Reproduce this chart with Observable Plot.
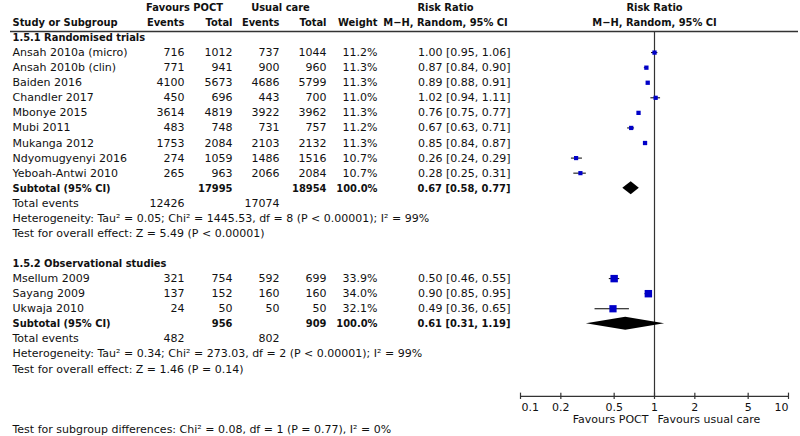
<!DOCTYPE html>
<html><head><meta charset="utf-8">
<script src="https://cdn.jsdelivr.net/npm/d3@7"></script>
<script src="https://cdn.jsdelivr.net/npm/@observablehq/plot@0.6"></script>
<style>body{margin:0;background:#fff}</style>
</head><body><div id="chart"></div>
<script>
// ---------- data ----------
const subgroupTitles = ["1.5.1 Randomised trials", "1.5.2 Observational studies"];
const studyNames = ["Ansah 2010a (micro)", "Ansah 2010b (clin)", "Baiden 2016", "Chandler 2017", "Mbonye 2015", "Mubi 2011", "Mukanga 2012", "Ndyomugyenyi 2016", "Yeboah-Antwi 2010", "Msellum 2009", "Sayang 2009", "Ukwaja 2010"];
const studyGroup = [0,0,0,0,0,0,0,0,0,1,1,1];
const pocEvents = [716, 771, 4100, 450, 3614, 483, 1753, 274, 265, 321, 137, 24];
const pocTotals = [1012, 941, 5673, 696, 4819, 748, 2084, 1059, 963, 754, 152, 50];
const ucEvents = [737, 900, 4686, 443, 3922, 731, 2103, 1486, 2066, 592, 160, 50];
const ucTotals = [1044, 960, 5799, 700, 3962, 757, 2132, 1516, 2084, 699, 160, 50];
const weights = [11.2, 11.3, 11.3, 11.0, 11.3, 11.2, 11.3, 10.7, 10.7, 33.9, 34.0, 32.1];
const rrEst = [1.00, 0.87, 0.89, 1.02, 0.76, 0.67, 0.85, 0.26, 0.28, 0.50, 0.90, 0.49];
const rrLow = [0.95, 0.84, 0.88, 0.94, 0.75, 0.63, 0.84, 0.24, 0.25, 0.46, 0.85, 0.36];
const rrHigh = [1.06, 0.90, 0.91, 1.11, 0.77, 0.71, 0.87, 0.29, 0.31, 0.55, 0.95, 0.65];

const subtotalPocTotal = [17995, 956];
const subtotalUcTotal = [18954, 909];
const subtotalWeight = [100.0, 100.0];
const subtotalEst = [0.67, 0.61];
const subtotalLow = [0.58, 0.31];
const subtotalHigh = [0.77, 1.19];
const totalEventsPoc = [12426, 482];
const totalEventsUc = [17074, 802];
const heterogeneityText = [
  "Heterogeneity: Tau² = 0.05; Chi² = 1445.53, df = 8 (P < 0.00001); I² = 99%",
  "Heterogeneity: Tau² = 0.34; Chi² = 273.03, df = 2 (P < 0.00001); I² = 99%"
];
const overallText = [
  "Test for overall effect: Z = 5.49 (P < 0.00001)",
  "Test for overall effect: Z = 1.46 (P = 0.14)"
];
const subgroupDiffText = "Test for subgroup differences: Chi² = 0.08, df = 1 (P = 0.77), I² = 0%";
const axisTicks = [0.1, 0.2, 0.5, 1, 2, 5, 10];
const favoursLeft = "Favours POCT";
const favoursRight = "Favours usual care";

// ---------- row layout ----------
const fmtRR = (e, l, h) => `${e.toFixed(2)} [${l.toFixed(2)}, ${h.toFixed(2)}]`;
const studies = [], titles = [], subtotals = [], totals = [], notes = [], diamonds = [];
let row = 0;
subgroupTitles.forEach((t, g) => {
  titles.push({row, text: t});
  row++;
  studyNames.forEach((n, i) => {
    if (studyGroup[i] !== g) return;
    studies.push({row, name: n, pe: pocEvents[i], pt: pocTotals[i], ue: ucEvents[i], ut: ucTotals[i],
      w: weights[i], est: rrEst[i], lo: rrLow[i], hi: rrHigh[i]});
    row++;
  });
  subtotals.push({row, pt: subtotalPocTotal[g], ut: subtotalUcTotal[g], w: subtotalWeight[g],
    est: subtotalEst[g], lo: subtotalLow[g], hi: subtotalHigh[g]});
  const h = 0.43;
  diamonds.push({g, y: row - h, x1: subtotalEst[g], x2: subtotalEst[g]});
  diamonds.push({g, y: row, x1: subtotalLow[g], x2: subtotalHigh[g]});
  diamonds.push({g, y: row + h, x1: subtotalEst[g], x2: subtotalEst[g]});
  row++;
  totals.push({row, pe: totalEventsPoc[g], ue: totalEventsUc[g]});
  row++;
  notes.push({row, text: heterogeneityText[g]}); row++;
  notes.push({row, text: overallText[g]}); row++;
  row++;
});
const axisRow = 23.82;
notes.push({row: 26, text: subgroupDiffText});

const header1 = [
  {text: "Favours POCT", x: 184, anchor: "middle"},
  {text: "Usual care", x: 280, anchor: "middle"},
  {text: "Risk Ratio", x: 445, anchor: "middle"},
];
const header2 = [
  {text: "Study or Subgroup", x: 12, anchor: "start"},
  {text: "Events", x: 184, anchor: "end"},
  {text: "Total", x: 232, anchor: "end"},
  {text: "Events", x: 279, anchor: "end"},
  {text: "Total", x: 326, anchor: "end"},
  {text: "Weight", x: 377, anchor: "end"},
  {text: "M\u2212H, Random, 95% CI", x: 445, anchor: "middle"},
];

const BOLD = {fontWeight: "bold", fontFamily: "'DejaVu Sans Condensed', 'DejaVu Sans', sans-serif", fontStretch: "condensed"};
const col = (data, opts) => Plot.text(data, {frameAnchor: "left", textAnchor: "end", ...opts});
const headerMarks = (arr, r) => arr.map(h => Plot.text([h], {frameAnchor: "left", dx: h.x, y: () => r, text: "text", textAnchor: h.anchor, ...BOLD}));

const plot = Plot.plot({
  width: 800, height: 436,
  marginLeft: 0, marginRight: 0, marginTop: 0, marginBottom: 0,
  style: {fontFamily: "'DejaVu Sans', sans-serif", fontSize: "11px", color: "#111", background: "#fff"},
  x: {type: "log", domain: [0.1, 10], range: [520, 788], axis: null},
  y: {domain: [-2, 26], range: [6.9, 428.8], axis: null},
  r: {type: "sqrt", domain: [0, 34], range: [0, 4.2]},
  marks: [
    // header
    ...headerMarks(header1, -2),
    ...headerMarks(header2, -1),
    Plot.text(["Risk Ratio"], {x: () => 1, y: () => -2, text: d => d, ...BOLD}),
    Plot.text(["M\u2212H, Random, 95% CI"], {x: () => 1, y: () => -1, text: d => d, ...BOLD}),
    Plot.ruleY([-0.4], {insetLeft: 10, insetRight: 2, stroke: "#333", strokeWidth: 1.5}),
    // subgroup titles
    Plot.text(titles, {frameAnchor: "left", dx: 12, y: "row", text: "text", textAnchor: "start", ...BOLD}),
    // study rows
    Plot.text(studies, {frameAnchor: "left", dx: 12, y: "row", text: "name", textAnchor: "start"}),
    col(studies, {dx: 184, y: "row", text: d => String(d.pe)}),
    col(studies, {dx: 232, y: "row", text: d => String(d.pt)}),
    col(studies, {dx: 279, y: "row", text: d => String(d.ue)}),
    col(studies, {dx: 326, y: "row", text: d => String(d.ut)}),
    col(studies, {dx: 377, y: "row", text: d => d.w.toFixed(1) + "%"}),
    col(studies, {dx: 510, y: "row", text: d => fmtRR(d.est, d.lo, d.hi)}),
    // subtotal rows
    Plot.text(subtotals, {frameAnchor: "left", dx: 12, y: "row", text: () => "Subtotal (95% CI)", textAnchor: "start", ...BOLD}),
    col(subtotals, {dx: 232, y: "row", text: d => String(d.pt), ...BOLD}),
    col(subtotals, {dx: 326, y: "row", text: d => String(d.ut), ...BOLD}),
    col(subtotals, {dx: 377, y: "row", text: d => d.w.toFixed(1) + "%", ...BOLD}),
    col(subtotals, {dx: 510, y: "row", text: d => fmtRR(d.est, d.lo, d.hi), ...BOLD}),
    // total events
    Plot.text(totals, {frameAnchor: "left", dx: 12, y: "row", text: () => "Total events", textAnchor: "start"}),
    col(totals, {dx: 184, y: "row", text: d => String(d.pe)}),
    col(totals, {dx: 279, y: "row", text: d => String(d.ue)}),
    // notes
    Plot.text(notes, {frameAnchor: "left", dx: 12, y: "row", text: "text", textAnchor: "start"}),
    // forest plot
    Plot.ruleX([1], {y1: () => -0.4, y2: () => axisRow, stroke: "#333", strokeWidth: 1.2}),
    Plot.ruleY(studies, {y: "row", x1: "lo", x2: "hi", stroke: "#000", strokeWidth: 1}),
    Plot.dot(studies, {x: "est", y: "row", r: "w", symbol: "square", fill: "#0000c8"}),
    Plot.areaX(diamonds, {y: "y", x1: "x1", x2: "x2", z: "g", fill: "#000", curve: "linear"}),
    // axis
    Plot.ruleY([axisRow], {x1: () => 0.1, x2: () => 10, stroke: "#333", strokeWidth: 1.2}),
    Plot.ruleX(axisTicks, {x: d => d, y1: () => 23.6, y2: () => 24.02, stroke: "#333", strokeWidth: 1.2}),
    Plot.text(axisTicks.slice(0, 1), {x: d => d, y: () => 24.55, text: d => String(d), textAnchor: "start", dx: 1}),
    Plot.text(axisTicks.slice(1, -1), {x: d => d, y: () => 24.55, text: d => String(d), textAnchor: "middle"}),
    Plot.text(axisTicks.slice(-1), {x: d => d, y: () => 24.55, text: d => String(d), textAnchor: "end"}),
    Plot.text([favoursLeft], {x: () => 1, y: () => 25.35, text: d => d, textAnchor: "end", dx: -6}),
    Plot.text([favoursRight], {x: () => 1, y: () => 25.35, text: d => d, textAnchor: "start", dx: 3}),
  ]
});
document.getElementById("chart").appendChild(plot);
</script>
</body></html>
